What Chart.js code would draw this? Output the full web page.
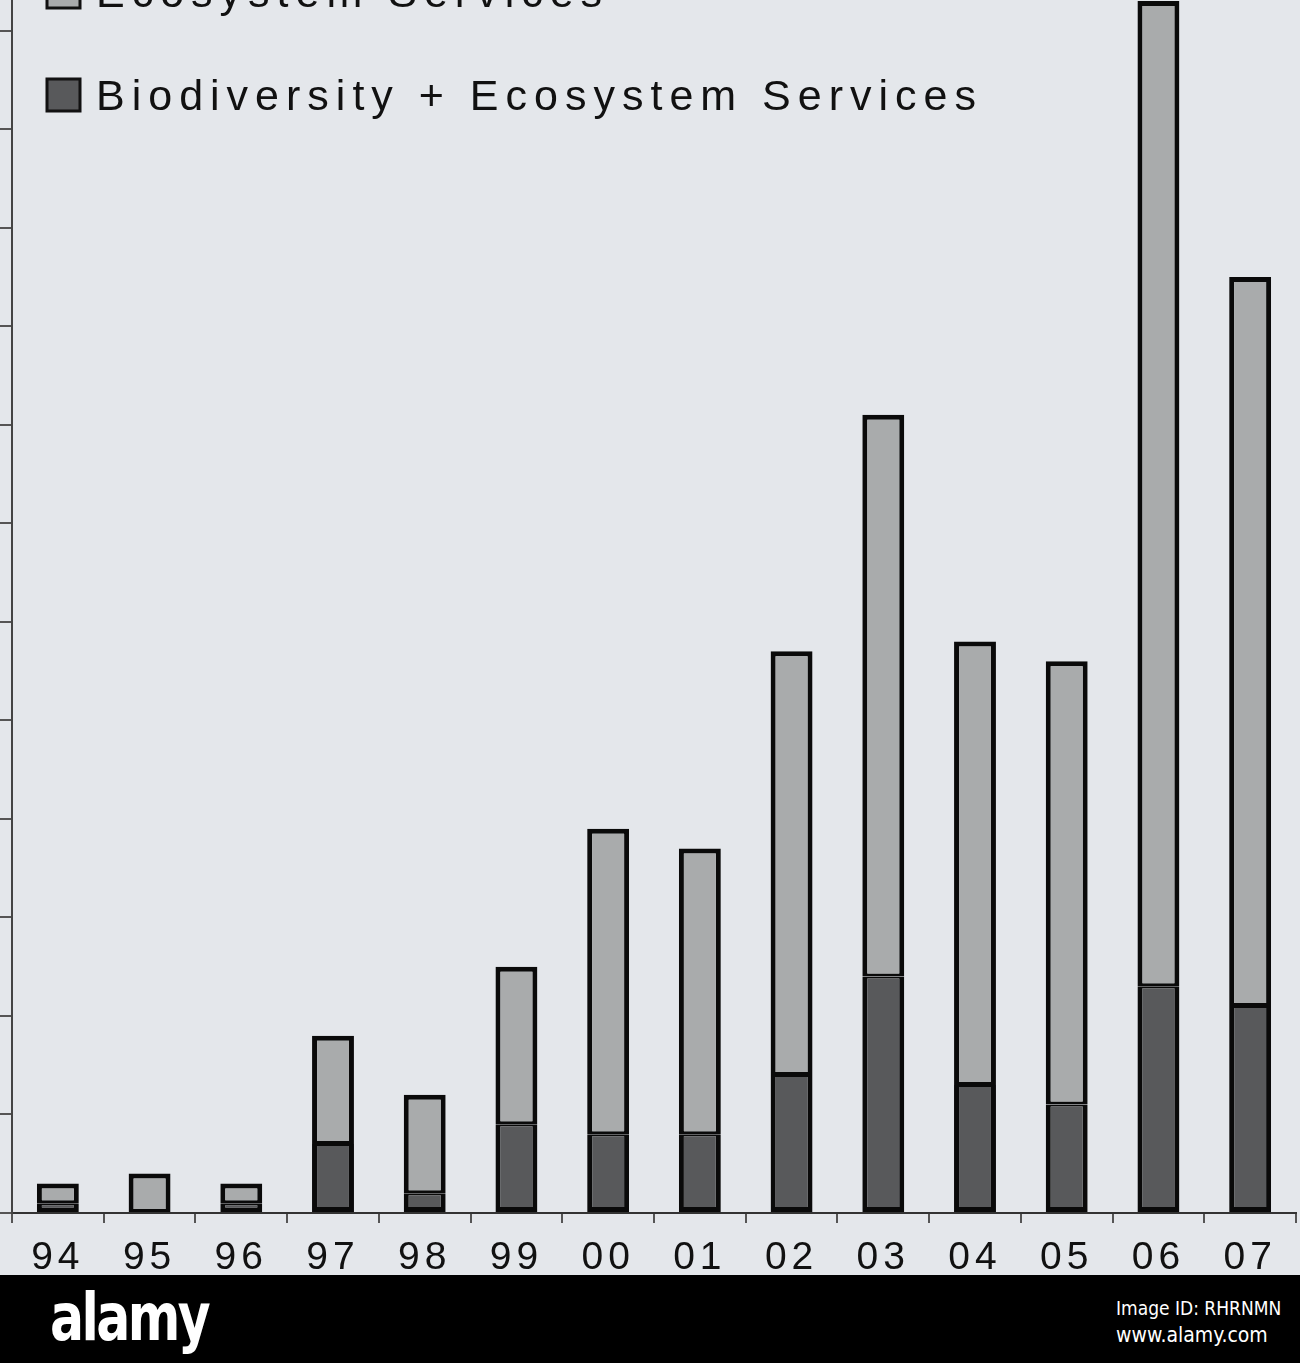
<!DOCTYPE html>
<html>
<head>
<meta charset="utf-8">
<script src="https://cdn.jsdelivr.net/npm/chart.js@4.4.1/dist/chart.umd.min.js"></script>
<style>
  html, body { margin: 0; padding: 0; background: #e4e7eb; }
  #wrap { position: relative; width: 1300px; height: 1275px; overflow: hidden; }
  #footer { position: relative; width: 1300px; height: 88px; background: #000; color: #fff; }
  #logo { position: absolute; left: 50px; top: 4px; font-family: "Liberation Sans Narrow", "DejaVu Sans Condensed", sans-serif; font-weight: bold; font-size: 66px; letter-spacing: -3px; transform: scaleX(0.85); transform-origin: left top; }
  #imgid { position: absolute; left: 1116px; top: 22px; font-family: "Liberation Sans Narrow", "DejaVu Sans Condensed", sans-serif; font-size: 19px; }
  #site { position: absolute; left: 1116px; top: 48px; font-family: "Liberation Sans Narrow", "DejaVu Sans Condensed", sans-serif; font-size: 21px; }
</style>
</head>
<body>
<div id="wrap"><canvas id="Chart" width="1300" height="1297"></canvas></div>
<div id="footer">
  <div id="logo">alamy</div>
  <div id="imgid">Image ID: RHRNMN</div>
  <div id="site">www.alamy.com</div>
</div>
<script>
var years = ['94', '95', '96', '97', '98', '99', '00', '01', '02', '03', '04', '05', '06', '07'];
var bioPlusEco = [1, 0, 1, 7, 2, 9, 8, 8, 14, 24, 13, 11, 23, 21];
var ecoOnly = [2, 4, 2, 11, 10, 16, 31, 29, 43, 57, 45, 45, 100, 74];
var yTicks = [0, 10, 20, 30, 40, 50, 60, 70, 80, 90, 100, 110, 120];

// spaced-out lettering like the scanned figure
var spacing = {
  id: 'spacing',
  beforeUpdate: function(chart) { chart.ctx.letterSpacing = '5px'; },
  beforeDraw: function(chart) { chart.ctx.letterSpacing = '5px'; }
};

// legend drawn by hand so it can sit inside the plot, cut at the top
var legendBoxes = {
  id: 'legendBoxes',
  afterDraw: function(chart) {
    var ctx = chart.ctx;
    var sets = chart.data.datasets.slice().reverse();
    ctx.save();
    ctx.letterSpacing = '7px';
    ctx.font = '43px "Liberation Sans", Arial, sans-serif';
    ctx.textBaseline = 'alphabetic';
    for (var i = 0; i < sets.length; i++) {
      var base = 7 + i * 103;
      ctx.fillStyle = sets[i].backgroundColor;
      ctx.fillRect(47, base - 31, 33, 32);
      ctx.strokeStyle = '#111';
      ctx.lineWidth = 3;
      ctx.strokeRect(47, base - 31, 33, 32);
      ctx.fillStyle = '#111';
      ctx.fillText(sets[i].label, 96, base);
    }
    ctx.restore();
  }
};

var ctx = document.getElementById('Chart').getContext('2d');
var chart = new Chart(ctx, {
  type: 'bar',
  data: {
    labels: years,
    datasets: [{
      label: 'Biodiversity + Ecosystem Services',
      data: bioPlusEco,
      backgroundColor: '#58595b',
      borderColor: '#0a0a0a',
      borderWidth: {top: 2, left: 5, right: 5, bottom: 5},
      borderSkipped: false
    }, {
      label: 'Ecosystem Services',
      data: ecoOnly,
      backgroundColor: '#a9abac',
      borderColor: '#0a0a0a',
      borderWidth: {top: 5, left: 5, right: 5, bottom: 3},
      borderSkipped: false
    }]
  },
  options: {
    responsive: false,
    animation: false,
    devicePixelRatio: 1,
    layout: { padding: { left: 0, right: 4, top: 0, bottom: 3 } },
    datasets: { bar: { categoryPercentage: 1, barPercentage: 0.457 } },
    plugins: { legend: { display: false }, tooltip: { enabled: false } },
    scales: {
      x: {
        stacked: true,
        border: { color: '#333', width: 2 },
        grid: { offset: true, drawOnChartArea: false, drawTicks: true, tickLength: 10, color: '#555', lineWidth: 2 },
        ticks: { color: '#111', padding: 16, font: { family: '"Liberation Sans", Arial, sans-serif', size: 39, lineHeight: 1.0 } }
      },
      y: {
        stacked: true,
        min: 0,
        max: 123.1,
        afterBuildTicks: function(scale) {
          scale.ticks = yTicks.map(function(v) { return { value: v }; });
        },
        border: { color: '#444', width: 2 },
        grid: { drawOnChartArea: false, drawTicks: true, tickLength: 12, color: '#555', lineWidth: 2 },
        ticks: { display: false }
      }
    }
  },
  plugins: [spacing, legendBoxes]
});
</script>
</body>
</html>
